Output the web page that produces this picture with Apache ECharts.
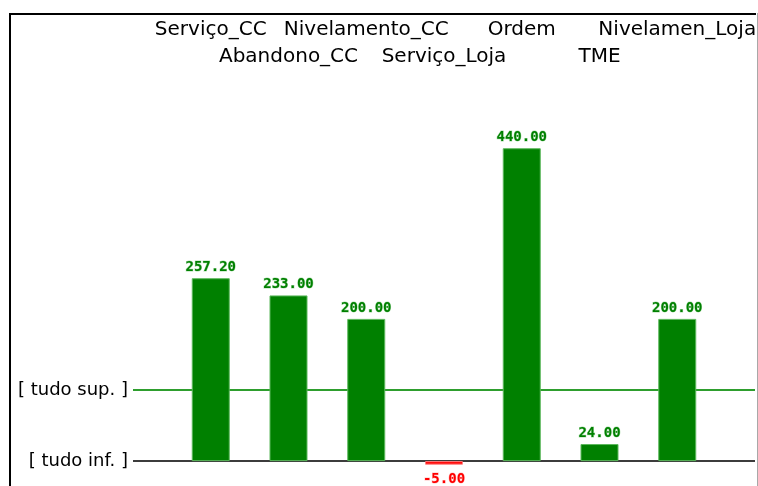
<!DOCTYPE html>
<html>
<head>
<meta charset="utf-8">
<script src="https://cdn.jsdelivr.net/npm/echarts@6/dist/echarts.min.js"></script>
<style>
html,body{margin:0;padding:0;background:#fff;}
#chart{width:758px;height:486px;}
</style>
</head>
<body>
<div id="chart"></div>
<script>
const categories = ['Serviço_CC', 'Abandono_CC', 'Nivelamento_CC', 'Serviço_Loja', 'Ordem', 'TME', 'Nivelamen_Loja'];
const values = [257.20, 233.00, 200.00, -5.00, 440.00, 24.00, 200.00];
const refValues = [0, 100];
const refLabels = ['[ tudo inf. ]', '[ tudo sup. ]'];

const FONT = 'DejaVu Sans';
const POS = '#008000';
const NEG = '#ff0000';

const chart = echarts.init(document.getElementById('chart'));

const barData = values.map((v, i) => ({
  value: [i + 1, v],
  itemStyle: { color: v < 0 ? NEG : POS, borderColor: v < 0 ? '#ff8080' : '#5cb85c' },
  label: {
    position: v < 0 ? 'bottom' : 'top',
    distance: v < 0 ? 8 : 4,
    color: v < 0 ? NEG : POS,
    textBorderColor: v < 0 ? 'rgba(255,120,120,0.45)' : 'rgba(80,180,80,0.45)'
  }
}));

chart.setOption({
  animation: false,
  backgroundColor: '#fff',
  grid: { left: 133, right: 3, top: 70, bottom: 0, containLabel: false, outerBoundsMode: 'none' },
  xAxis: {
    type: 'value',
    position: 'top',
    min: 0,
    max: categories.length + 1,
    interval: 1,
    axisLine: { show: false },
    axisTick: { show: false },
    splitLine: { show: false },
    axisLabel: {
      show: true,
      showMinLabel: true,
      showMaxLabel: true,
      hideOverlap: false,
      fontFamily: FONT,
      fontSize: 20,
      color: '#000',
      lineHeight: 27,
      verticalAlign: 'bottom',
      margin: 0,
      formatter: function (v) {
        const i = Math.round(v) - 1;
        if (i < 0 || i >= categories.length) return '';
        return i % 2 === 0 ? categories[i] + '\n ' : categories[i];
      }
    }
  },
  yAxis: {
    type: 'value',
    min: -35,
    max: 550,
    interval: 5,
    axisLine: { show: false },
    axisTick: { show: false },
    splitLine: { show: false },
    axisLabel: {
      fontFamily: FONT,
      fontSize: 18,
      color: '#000',
      margin: 5,
      hideOverlap: false,
      formatter: function (v) {
        const k = refValues.indexOf(Math.round(v));
        return k >= 0 && Math.abs(v - Math.round(v)) < 1e-6 ? refLabels[k] : '';
      }
    }
  },
  graphic: [
    { type: 'line', shape: { x1: 9, y1: 14, x2: 756, y2: 14 }, style: { stroke: '#000', lineWidth: 2 } },
    { type: 'line', shape: { x1: 10, y1: 13, x2: 10, y2: 486 }, style: { stroke: '#000', lineWidth: 2 } },
    { type: 'line', shape: { x1: 757.5, y1: 13, x2: 757.5, y2: 486 }, style: { stroke: '#a8a8a8', lineWidth: 1 } }
  ],
  series: [{
    type: 'bar',
    z: 2,
    barWidth: 38,
    data: barData,
    itemStyle: { borderWidth: 1 },
    label: {
      show: true,
      fontFamily: 'DejaVu Sans Mono',
      fontWeight: 'bold',
      fontSize: 14,
      textBorderWidth: 1,
      formatter: function (p) { return p.value[1].toFixed(2); }
    },
    markLine: {
      silent: true,
      symbol: 'none',
      z: 1,
      label: { show: false },
      emphasis: { disabled: true },
      data: [
        { yAxis: refValues[1], lineStyle: { color: '#2e9e2e', width: 2, type: 'solid' } },
        { yAxis: refValues[0], lineStyle: { color: '#3c3c3c', width: 2, type: 'solid' } }
      ]
    }
  }]
});
</script>
</body>
</html>
